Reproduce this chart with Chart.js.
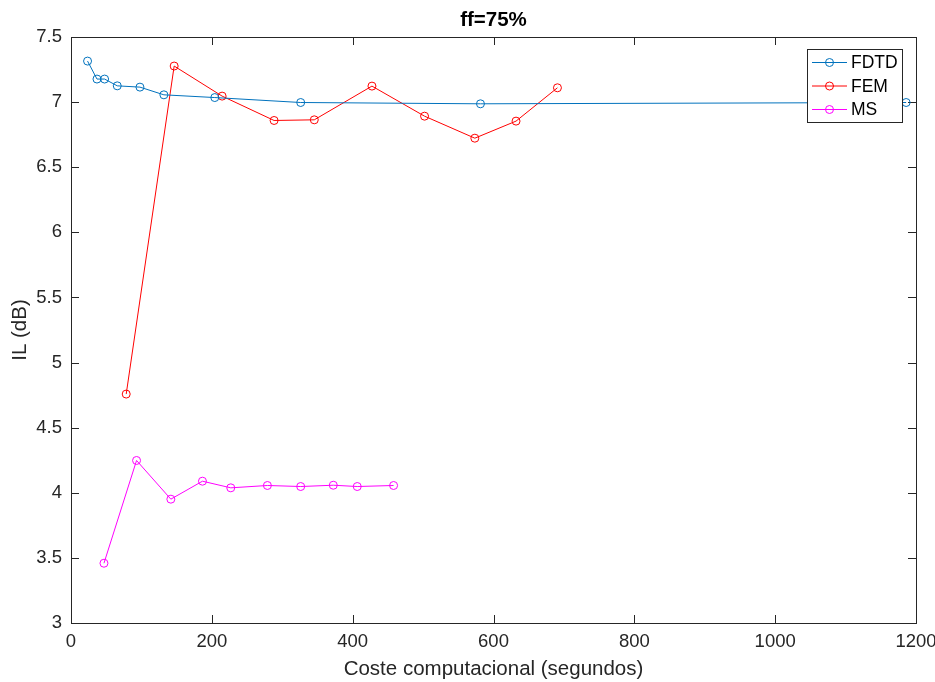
<!DOCTYPE html>
<html>
<head>
<meta charset="utf-8">
<script src="https://cdn.jsdelivr.net/npm/chart.js@4.4.1/dist/chart.umd.min.js"></script>
<style>
  html, body { margin: 0; padding: 0; background: #ffffff; }
  #wrap { width: 935px; height: 682px; }
</style>
</head>
<body>
<div id="wrap"><canvas id="c" width="935" height="682"></canvas></div>
<script>
// Insertion loss vs. computational cost, fill factor 75 %
const titleText = 'ff=75%';
const xTitle = 'Coste computacional (segundos)';
const yTitle = 'IL (dB)';

const seriesNames = ['FDTD', 'FEM', 'MS'];

const fdtdCost = [23.5, 36.9, 47.7, 65.7, 97.9, 131.9, 204.2, 326.2, 581.5, 1186];
const fdtdIL   = [7.315, 7.177, 7.177, 7.125, 7.115, 7.056, 7.035, 6.997, 6.987, 6.997];

const femCost = [78.4, 146.5, 214.6, 288.4, 345.5, 427.4, 502.1, 573.5, 632.0, 690.8];
const femIL   = [4.758, 7.277, 7.046, 6.859, 6.864, 7.123, 6.892, 6.723, 6.854, 7.110];

const msCost = [46.8, 93.1, 141.8, 186.7, 226.9, 278.9, 326.2, 372.5, 406.5, 458.1];
const msIL   = [3.459, 4.248, 3.951, 4.089, 4.038, 4.056, 4.048, 4.058, 4.048, 4.056];

const xTicks = [0, 200, 400, 600, 800, 1000, 1200];
const yTicks = [3, 3.5, 4, 4.5, 5, 5.5, 6, 6.5, 7, 7.5];

const colors = ['#0072BD', '#FF0000', '#FF00FF'];
const axisColor = '#262626';
const fontFamily = '"Liberation Sans", Arial, Helvetica, sans-serif';

function pairs(xs, ys) { return xs.map((x, i) => ({ x: x, y: ys[i] })); }

function makeSet(label, xs, ys, color) {
  return {
    label: label,
    data: pairs(xs, ys),
    borderColor: color,
    backgroundColor: 'rgba(0,0,0,0)',
    borderWidth: 1,
    pointRadius: 4,
    pointHoverRadius: 4,
    pointBorderWidth: 1,
    pointBorderColor: color,
    pointBackgroundColor: 'rgba(0,0,0,0)',
    showLine: true,
    tension: 0,
    fill: false
  };
}

// Box frame, inward tick marks, title and legend drawn in MATLAB style
const framePlugin = {
  id: 'frame',
  beforeDatasetsDraw(chart) {
    const { ctx, chartArea: a, scales } = chart;
    ctx.save();
    ctx.strokeStyle = axisColor;
    ctx.lineWidth = 1;
    const tl = 8;
    ctx.beginPath();
    xTicks.forEach(v => {
      const px = Math.round(scales.x.getPixelForValue(v)) + 0.5;
      ctx.moveTo(px, a.bottom); ctx.lineTo(px, a.bottom - tl);
      ctx.moveTo(px, a.top); ctx.lineTo(px, a.top + tl);
    });
    yTicks.forEach(v => {
      const py = Math.round(scales.y.getPixelForValue(v)) + 0.5;
      ctx.moveTo(a.left, py); ctx.lineTo(a.left + tl, py);
      ctx.moveTo(a.right, py); ctx.lineTo(a.right - tl, py);
    });
    ctx.stroke();
    ctx.restore();
  },
  afterDatasetsDraw(chart) {
    const { ctx, chartArea: a } = chart;
    ctx.save();
    // frame
    ctx.strokeStyle = axisColor;
    ctx.lineWidth = 1;
    ctx.strokeRect(Math.round(a.left) + 0.5, Math.round(a.top) + 0.5,
                   Math.round(a.right - a.left), Math.round(a.bottom - a.top));
    // title
    ctx.fillStyle = '#000000';
    ctx.font = 'bold 20.5px ' + fontFamily;
    ctx.textAlign = 'center';
    ctx.textBaseline = 'middle';
    ctx.fillText(titleText, (a.left + a.right) / 2, 20);

    // legend box
    const bx = 807.5, by = 49.5, bw = 95, bh = 73;
    ctx.fillStyle = '#ffffff';
    ctx.fillRect(bx, by, bw, bh);
    ctx.strokeStyle = axisColor;
    ctx.strokeRect(bx, by, bw, bh);
    ctx.font = '17.5px ' + fontFamily;
    ctx.textAlign = 'left';
    chart.data.datasets.forEach((ds, i) => {
      const cy = 62.5 + i * 23.5;
      ctx.strokeStyle = ds.borderColor;
      ctx.lineWidth = 1;
      ctx.beginPath();
      ctx.moveTo(812, cy); ctx.lineTo(847, cy);
      ctx.stroke();
      ctx.beginPath();
      ctx.arc(829.5, cy, 4, 0, Math.PI * 2);
      ctx.stroke();
      ctx.fillStyle = '#000000';
      ctx.fillText(ds.label, 851, cy + 1);
    });
    ctx.restore();
  }
};

new Chart(document.getElementById('c'), {
  type: 'line',
  data: {
    datasets: [
      makeSet(seriesNames[0], fdtdCost, fdtdIL, colors[0]),
      makeSet(seriesNames[1], femCost, femIL, colors[1]),
      makeSet(seriesNames[2], msCost, msIL, colors[2])
    ]
  },
  options: {
    responsive: false,
    animation: false,
    layout: { padding: { top: 37, right: 19, left: 0, bottom: 0 } },
    plugins: {
      legend: { display: false },
      title: { display: false },
      tooltip: { enabled: false }
    },
    scales: {
      x: {
        type: 'linear',
        min: 0, max: 1200,
        afterFit(s) { s.height = 59; s.paddingRight = 0; s.paddingLeft = 0; },
        afterBuildTicks(s) { s.ticks = xTicks.map(v => ({ value: v })); },
        grid: { display: false, drawTicks: false },
        border: { display: false },
        ticks: {
          color: axisColor, padding: 8, maxRotation: 0, autoSkip: false,
          font: { family: fontFamily, size: 18.5 },
          callback: v => String(v)
        },
        title: {
          display: true, text: xTitle, color: axisColor,
          font: { family: fontFamily, size: 20.5 },
          padding: { top: 0, bottom: 0 }
        }
      },
      y: {
        type: 'linear',
        min: 3, max: 7.5,
        afterFit(s) { s.width = 71; s.paddingTop = 0; s.paddingBottom = 0; },
        afterBuildTicks(s) { s.ticks = yTicks.map(v => ({ value: v })); },
        grid: { display: false, drawTicks: false },
        border: { display: false },
        ticks: {
          color: axisColor, padding: 9, autoSkip: false,
          font: { family: fontFamily, size: 18.5 },
          callback: v => String(v)
        },
        title: {
          display: true, text: yTitle, color: axisColor,
          font: { family: fontFamily, size: 20.5 },
          padding: { top: 8.5, bottom: 0 }
        }
      }
    }
  },
  plugins: [framePlugin]
});
</script>
</body>
</html>
